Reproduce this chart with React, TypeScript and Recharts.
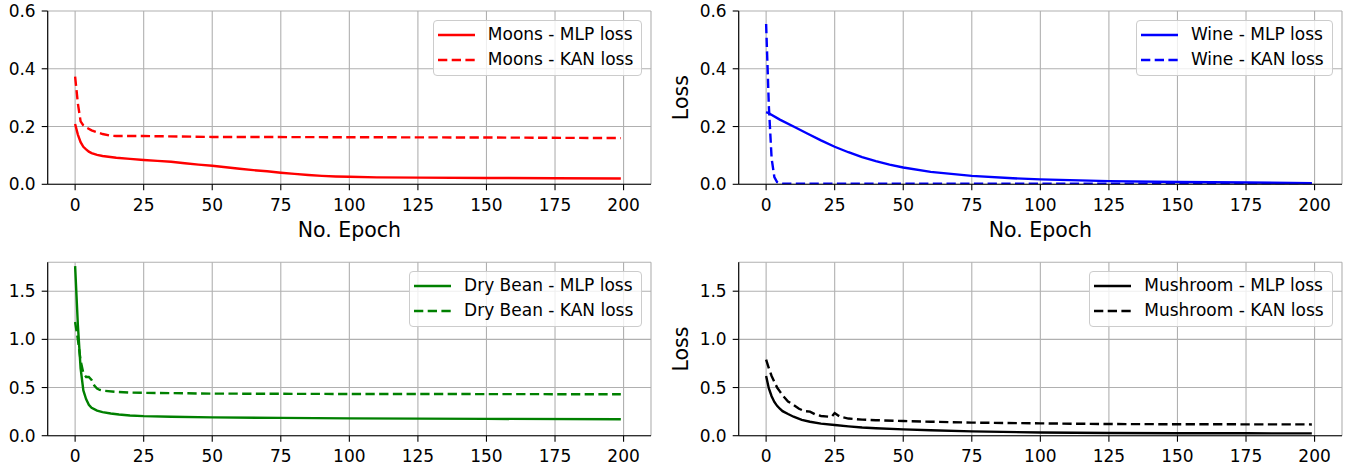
import React from 'react';
import { LineChart, Line, XAxis, YAxis, CartesianGrid, Legend } from 'recharts';

const FONT = '"DejaVu Sans", Verdana, sans-serif';

// ---- tick labels ----
const epochTicks = [0, 25, 50, 75, 100, 125, 150, 175, 200];
const lossTicksTop = [0, 0.2, 0.4, 0.6];
const lossTicksBottom = [0, 0.5, 1.0, 1.5];

// ---- Moons ----
const moonsMlpEpochs = [0, 1, 2, 3, 4, 5, 6, 8, 10, 15, 20, 25, 30, 35, 40, 45, 50, 55, 60, 65, 70, 75, 80, 85, 90, 95, 100, 110, 125, 150, 175, 199];
const moonsMlpLoss = [0.209, 0.172, 0.146, 0.130, 0.121, 0.113, 0.108, 0.102, 0.098, 0.092, 0.088, 0.084, 0.081, 0.078, 0.073, 0.068, 0.064, 0.059, 0.054, 0.049, 0.045, 0.040, 0.036, 0.032, 0.029, 0.027, 0.026, 0.024, 0.023, 0.022, 0.021, 0.020];
const moonsKanEpochs = [0, 1, 2, 3, 4, 6, 8, 10, 13, 15, 25, 50, 100, 150, 199];
const moonsKanLoss = [0.373, 0.280, 0.218, 0.204, 0.197, 0.187, 0.180, 0.174, 0.168, 0.167, 0.167, 0.164, 0.163, 0.162, 0.160];

// ---- Wine ----
const wineMlpEpochs = [0, 1, 5, 10, 15, 20, 25, 30, 35, 40, 45, 50, 60, 75, 90, 100, 125, 150, 175, 199];
const wineMlpLoss = [0.250, 0.246, 0.224, 0.200, 0.176, 0.152, 0.130, 0.111, 0.094, 0.080, 0.068, 0.058, 0.043, 0.029, 0.021, 0.017, 0.011, 0.008, 0.006, 0.004];
const wineKanEpochs = [0, 1, 2, 3, 4, 5, 6, 10, 50, 100, 150, 199];
const wineKanLoss = [0.555, 0.270, 0.090, 0.025, 0.008, 0.003, 0.002, 0.002, 0.002, 0.002, 0.002, 0.002];

// ---- Dry Bean ----
const beanMlpEpochs = [0, 1, 2, 3, 4, 5, 6, 8, 10, 13, 16, 20, 25, 35, 50, 75, 100, 150, 199];
const beanMlpLoss = [1.76, 1.15, 0.70, 0.47, 0.38, 0.32, 0.29, 0.26, 0.245, 0.23, 0.22, 0.21, 0.203, 0.197, 0.19, 0.185, 0.18, 0.175, 0.17];
const beanKanEpochs = [0, 1, 2, 3, 4, 5, 6, 7, 8, 9, 10, 15, 20, 25, 50, 75, 100, 150, 199];
const beanKanLoss = [1.18, 1.00, 0.78, 0.65, 0.61, 0.61, 0.58, 0.52, 0.49, 0.475, 0.468, 0.455, 0.448, 0.445, 0.437, 0.435, 0.433, 0.432, 0.430];

// ---- Mushroom ----
const mushMlpEpochs = [0, 1, 2, 3, 4, 5, 6, 8, 10, 13, 16, 20, 25, 30, 35, 40, 50, 60, 75, 100, 125, 150, 175, 199];
const mushMlpLoss = [0.62, 0.49, 0.41, 0.35, 0.31, 0.28, 0.255, 0.225, 0.197, 0.165, 0.145, 0.125, 0.111, 0.097, 0.085, 0.077, 0.066, 0.057, 0.045, 0.033, 0.028, 0.026, 0.025, 0.024];
const mushKanEpochs = [0, 1, 2, 3, 4, 5, 6, 8, 10, 12, 14, 16, 18, 20, 23, 24, 25, 26, 27, 30, 35, 40, 50, 60, 75, 100, 125, 150, 175, 199];
const mushKanLoss = [0.79, 0.70, 0.62, 0.56, 0.50, 0.46, 0.42, 0.355, 0.32, 0.28, 0.255, 0.25, 0.22, 0.205, 0.197, 0.20, 0.235, 0.215, 0.197, 0.178, 0.167, 0.161, 0.152, 0.145, 0.136, 0.128, 0.121, 0.119, 0.118, 0.117];

type Pt = { epoch: number; loss: number };
type Series = { name: string; color: string; dashed: boolean; data: Pt[] };

const zip = (epochs: number[], loss: number[]): Pt[] => epochs.map((e, i) => ({ epoch: e, loss: loss[i] }));

const DASH = '9.3 4.4';
const LINE_W = 2.4;

const moonsSeries: Series[] = [
  { name: 'Moons - MLP loss', color: '#ff0000', dashed: false, data: zip(moonsMlpEpochs, moonsMlpLoss) },
  { name: 'Moons - KAN loss', color: '#ff0000', dashed: true, data: zip(moonsKanEpochs, moonsKanLoss) },
];
const wineSeries: Series[] = [
  { name: 'Wine - MLP loss', color: '#0000ff', dashed: false, data: zip(wineMlpEpochs, wineMlpLoss) },
  { name: 'Wine - KAN loss', color: '#0000ff', dashed: true, data: zip(wineKanEpochs, wineKanLoss) },
];
const beanSeries: Series[] = [
  { name: 'Dry Bean - MLP loss', color: '#008000', dashed: false, data: zip(beanMlpEpochs, beanMlpLoss) },
  { name: 'Dry Bean - KAN loss', color: '#008000', dashed: true, data: zip(beanKanEpochs, beanKanLoss) },
];
const mushSeries: Series[] = [
  { name: 'Mushroom - MLP loss', color: '#000000', dashed: false, data: zip(mushMlpEpochs, mushMlpLoss) },
  { name: 'Mushroom - KAN loss', color: '#000000', dashed: true, data: zip(mushKanEpochs, mushKanLoss) },
];

const LegendBox = ({ series }: { series: Series[] }) => (
  <div
    style={{
      background: 'rgba(255,255,255,0.8)',
      border: '1px solid #cccccc',
      borderRadius: 4,
      padding: '1px 8px 2px 4px',
      fontFamily: FONT,
      fontSize: 17,
      color: '#000',
      display: 'inline-block',
    }}
  >
    {series.map((s) => (
      <div key={s.name} style={{ display: 'flex', alignItems: 'center', height: 25.3 }}>
        <svg width={37} height={6} style={{ marginRight: 13, flex: 'none', display: 'block' }}>
          <line x1={0} y1={3} x2={37} y2={3} stroke={s.color} strokeWidth={LINE_W} strokeDasharray={s.dashed ? DASH : undefined} />
        </svg>
        <span style={{ whiteSpace: 'nowrap', lineHeight: '25px' }}>{s.name}</span>
      </div>
    ))}
  </div>
);

type PanelProps = {
  left: number;
  top: number;
  width: number;
  height: number;
  marginTop: number;
  yAxisWidth: number;
  xAxisHeight: number;
  yDomain: [number, number];
  yTicks: number[];
  showXLabel: boolean;
  showYLabel: boolean;
  series: Series[];
  legendTop: number;
  legendRight: number;
};

const axisStroke = { stroke: '#000', strokeWidth: 1.1 };
const tickStyle = { fill: '#000', fontSize: 17, fontFamily: FONT };

const Panel = (p: PanelProps) => (
  <div style={{ position: 'absolute', left: p.left, top: p.top, width: p.width, height: p.height }}>
    <LineChart width={p.width} height={p.height} margin={{ top: p.marginTop, right: 9, bottom: 0, left: 0 }}>
      <CartesianGrid stroke="#b0b0b0" strokeWidth={1.1} />
      <XAxis
        dataKey="epoch"
        type="number"
        domain={[-10, 210]}
        ticks={epochTicks}
        interval={0}
        allowDataOverflow
        tickSize={6}
        tickMargin={8.6}
        tick={tickStyle}
        axisLine={axisStroke}
        tickLine={axisStroke}
        height={p.xAxisHeight}
        label={
          p.showXLabel
            ? { value: 'No. Epoch', position: 'insideBottom', offset: 13, fontSize: 20.5, fill: '#000', fontFamily: FONT }
            : undefined
        }
      />
      <XAxis xAxisId="top" orientation="top" type="number" domain={[-10, 210]} tick={false} tickLine={false} height={0} axisLine={axisStroke} />
      <YAxis
        type="number"
        domain={p.yDomain}
        ticks={p.yTicks}
        interval={0}
        allowDataOverflow
        tickFormatter={(v: number) => v.toFixed(1)}
        tickSize={6}
        tickMargin={6}
        tick={tickStyle}
        axisLine={axisStroke}
        tickLine={axisStroke}
        width={p.yAxisWidth}
        label={
          p.showYLabel
            ? { value: 'Loss', angle: -90, position: 'center', dx: -18.6, fontSize: 20.5, fill: '#000', fontFamily: FONT }
            : undefined
        }
      />
      <YAxis yAxisId="right" orientation="right" type="number" domain={[0, 1]} tick={false} tickLine={false} width={0} axisLine={axisStroke} />
      <Legend
        verticalAlign="middle"
        align="center"
        layout="horizontal"
        content={() => <LegendBox series={p.series} />}
        wrapperStyle={{ top: p.legendTop, right: p.legendRight, width: 'auto', height: 'auto' }}
      />
      {p.series.map((s) => (
        <Line
          key={s.name}
          name={s.name}
          data={s.data}
          dataKey="loss"
          type="linear"
          stroke={s.color}
          strokeWidth={LINE_W}
          strokeDasharray={s.dashed ? DASH : undefined}
          dot={false}
          activeDot={false}
          isAnimationActive={false}
        />
      ))}
    </LineChart>
  </div>
);

export default function App() {
  return (
    <div style={{ position: 'absolute', left: 0, top: 0, width: 1351, height: 468, background: '#fff', fontFamily: FONT }}>
      <Panel left={0} top={240} width={660} height={228} marginTop={22.3} yAxisWidth={47.7} xAxisHeight={32.3}
        yDomain={[0, 1.8]} yTicks={lossTicksBottom} showXLabel={false} showYLabel={false} series={beanSeries} legendTop={31} legendRight={17.7} />
      <Panel left={660} top={240} width={691} height={228} marginTop={22.3} yAxisWidth={78.7} xAxisHeight={32.3}
        yDomain={[0, 1.8]} yTicks={lossTicksBottom} showXLabel={false} showYLabel series={mushSeries} legendTop={31} legendRight={18.3} />
      <Panel left={0} top={0} width={660} height={250} marginTop={11} yAxisWidth={47.7} xAxisHeight={65.7}
        yDomain={[0, 0.6]} yTicks={lossTicksTop} showXLabel showYLabel={false} series={moonsSeries} legendTop={20} legendRight={17.7} />
      <Panel left={660} top={0} width={691} height={250} marginTop={11} yAxisWidth={78.7} xAxisHeight={65.7}
        yDomain={[0, 0.6]} yTicks={lossTicksTop} showXLabel showYLabel series={wineSeries} legendTop={20} legendRight={18.3} />
    </div>
  );
}
